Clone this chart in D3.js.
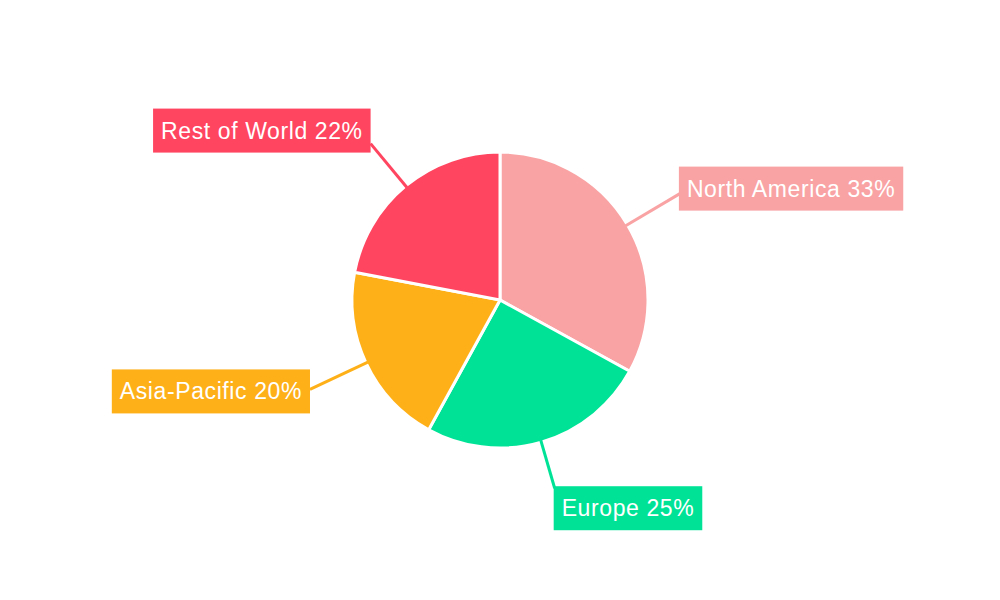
<!DOCTYPE html>
<html>
<head>
<meta charset="utf-8">
<script src="https://cdn.jsdelivr.net/npm/d3@7"></script>
<style>body{margin:0;background:#fff}</style>
</head>
<body>
<svg></svg>
<script>
const regions = ['North America', 'Europe', 'Asia-Pacific', 'Rest of World'];
const shares = [33, 25, 20, 22];
const colors = ['#F9A3A4', '#00E396', '#FEB019', '#FF4560'];

// label layout tweaks (leader length, vertical box shift)
const leaderLen = [209, 196, 210, 203];
const boxShift = [-5, 0, 2, -13];

const W = 1000, H = 600;
const cx = 500, cy = 300, radius = 148;

const svg = d3.select('svg').attr('width', W).attr('height', H);
const chart = svg.append('g').attr('transform', `translate(${cx},${cy})`);

const data = regions.map((r, i) => ({region: r, share: shares[i], color: colors[i], i: i}));

const pie = d3.pie().sort(null).value(d => d.share);
const arc = d3.arc().innerRadius(0).outerRadius(radius);
const arcs = pie(data);

chart.selectAll('path.slice')
     .data(arcs)
     .enter()
     .append('path')
     .attr('class', 'slice')
     .attr('d', arc)
     .attr('fill', d => d.data.color)
     .attr('stroke', '#fff')
     .attr('stroke-width', 3);

const pointAt = (a, r) => [r * Math.sin(a), -r * Math.cos(a)];

arcs.forEach(d => {
    const i = d.data.i;
    const mid = (d.startAngle + d.endAngle) / 2;
    const p1 = pointAt(mid, radius - 2);
    const p2 = pointAt(mid, leaderLen[i]);
    chart.append('line')
         .attr('x1', p1[0]).attr('y1', p1[1])
         .attr('x2', p2[0]).attr('y2', p2[1])
         .attr('stroke', d.data.color)
         .attr('stroke-width', 3);

    const g = chart.append('g');
    const txt = g.append('text')
                 .attr('font-family', 'Liberation Sans, Arial, sans-serif')
                 .attr('font-size', 23)
                 .attr('letter-spacing', 0.6)
                 .attr('fill', '#fff')
                 .text(`${d.data.region} ${d.data.share}%`);
    const tw = txt.node().getComputedTextLength();
    const bw = tw + 16, bh = 44;
    let bx, by;
    const bottom = p2[1] > 150;
    if (p2[0] >= 0) bx = p2[0] - 1; else bx = p2[0] - bw;
    by = bottom ? p2[1] - 2 : p2[1] - bh / 2 + boxShift[i];
    g.insert('rect', 'text')
     .attr('x', bx).attr('y', by)
     .attr('width', bw).attr('height', bh)
     .attr('fill', d.data.color);
    txt.attr('x', bx + 8).attr('y', by + bh / 2 + 8);
});
</script>
</body>
</html>
